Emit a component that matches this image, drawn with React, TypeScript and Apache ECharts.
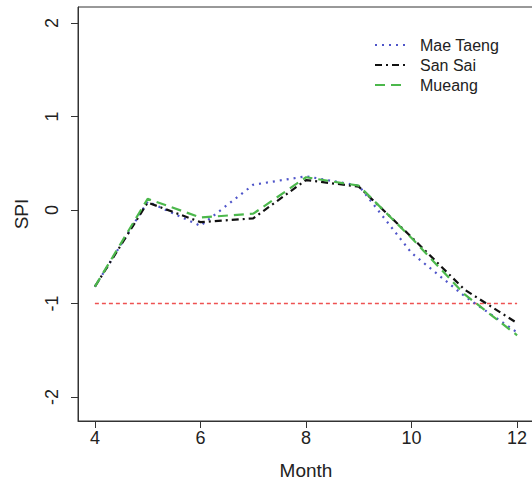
import React, { useEffect, useRef } from "react";
import * as echarts from "echarts";

// Months on the x axis and SPI values per district
const months = [4, 5, 6, 7, 8, 9, 10, 11, 12];
const maeTaeng = [-0.82, 0.09, -0.17, 0.27, 0.36, 0.26, -0.46, -0.92, -1.31];
const sanSai = [-0.82, 0.08, -0.13, -0.09, 0.32, 0.25, -0.29, -0.85, -1.21];
const mueang = [-0.82, 0.12, -0.08, -0.04, 0.35, 0.26, -0.3, -0.9, -1.34];
const xTicks = [4, 6, 8, 10, 12];
const yTicks = [-2, -1, 0, 1, 2];
const threshold = -1;

const districts = [
  { name: "Mae Taeng", values: maeTaeng, color: "#4f55c9", dash: [2, 5] },
  { name: "San Sai", values: sanSai, color: "#111111", dash: [7, 4, 2, 4] },
  { name: "Mueang", values: mueang, color: "#4cb84c", dash: [10, 6] },
];

const pairs = (ys: number[]) => months.map((m, i) => [m, ys[i]]);

export default function App() {
  const ref = useRef<HTMLDivElement>(null);

  useEffect(() => {
    if (!ref.current) return;
    const chart = echarts.init(ref.current, null, { renderer: "svg" });
    const font = "Liberation Sans, Arial, sans-serif";

    // R-style legend key: short line sample followed by the district name
    const keyLeft = 375;
    const keyTop = 45;
    const rowStep = 20;
    const legendItems = districts.flatMap((d, i) => [
      {
        type: "line",
        shape: { x1: keyLeft, y1: keyTop + i * rowStep, x2: keyLeft + 31, y2: keyTop + i * rowStep },
        style: { stroke: d.color, lineWidth: 2.2, lineDash: d.dash },
      },
      {
        type: "text",
        x: keyLeft + 45,
        y: keyTop + i * rowStep,
        style: { text: d.name, fill: "#222", font: `16px ${font}`, textVerticalAlign: "middle", verticalAlign: "middle" },
      },
    ]);

    chart.setOption({
      animation: false,
      backgroundColor: "#ffffff",
      textStyle: { fontFamily: font },
      grid: {
        left: 78,
        top: 7,
        width: 456,
        height: 414,
        outerBoundsMode: "none",
        containLabel: false,
        show: true,
        borderColor: "#333",
        borderWidth: 1,
        backgroundColor: "transparent",
      },
      graphic: legendItems,
      xAxis: {
        type: "value",
        min: 3.68,
        max: 12.32,
        name: "Month",
        nameLocation: "middle",
        nameGap: 40,
        nameTextStyle: { fontFamily: font, fontSize: 19, color: "#222" },
        axisLine: { show: true, onZero: false, lineStyle: { color: "#333" } },
        axisTick: { show: true, length: 7, lineStyle: { color: "#333" }, customValues: xTicks },
        axisLabel: { fontFamily: font, fontSize: 18, color: "#222", margin: 8, customValues: xTicks, hideOverlap: false },
        splitLine: { show: false },
      },
      yAxis: {
        type: "value",
        min: -2.257,
        max: 2.171,
        name: "SPI",
        nameLocation: "middle",
        nameRotate: 90,
        nameGap: 47,
        nameTextStyle: { fontFamily: font, fontSize: 19, color: "#222" },
        axisLine: { show: true, onZero: false, lineStyle: { color: "#333" } },
        axisTick: { show: true, length: 7, lineStyle: { color: "#333" }, customValues: yTicks },
        axisLabel: { fontFamily: font, fontSize: 18, color: "#222", rotate: 90, margin: 17, customValues: yTicks },
        splitLine: { show: false },
      },
      series: [
        {
          name: "Threshold",
          type: "line",
          data: [[4, threshold], [12, threshold]],
          symbol: "none",
          silent: true,
          color: "#ee5252",
          itemStyle: { color: "#ee5252" },
          lineStyle: { color: "#ee5252", width: 1.5, type: [4, 3], opacity: 1 },
          z: 1,
        },
        ...districts.map((d, i) => ({
          name: d.name,
          type: "line",
          data: pairs(d.values),
          symbol: "none",
          color: d.color,
          lineStyle: { color: d.color, width: 2.2, type: d.dash },
          z: 2 + i,
        })),
      ],
    });
    return () => chart.dispose();
  }, []);

  return <div ref={ref} style={{ position: "fixed", left: 0, top: 0, width: 532, height: 481 }} />;
}
